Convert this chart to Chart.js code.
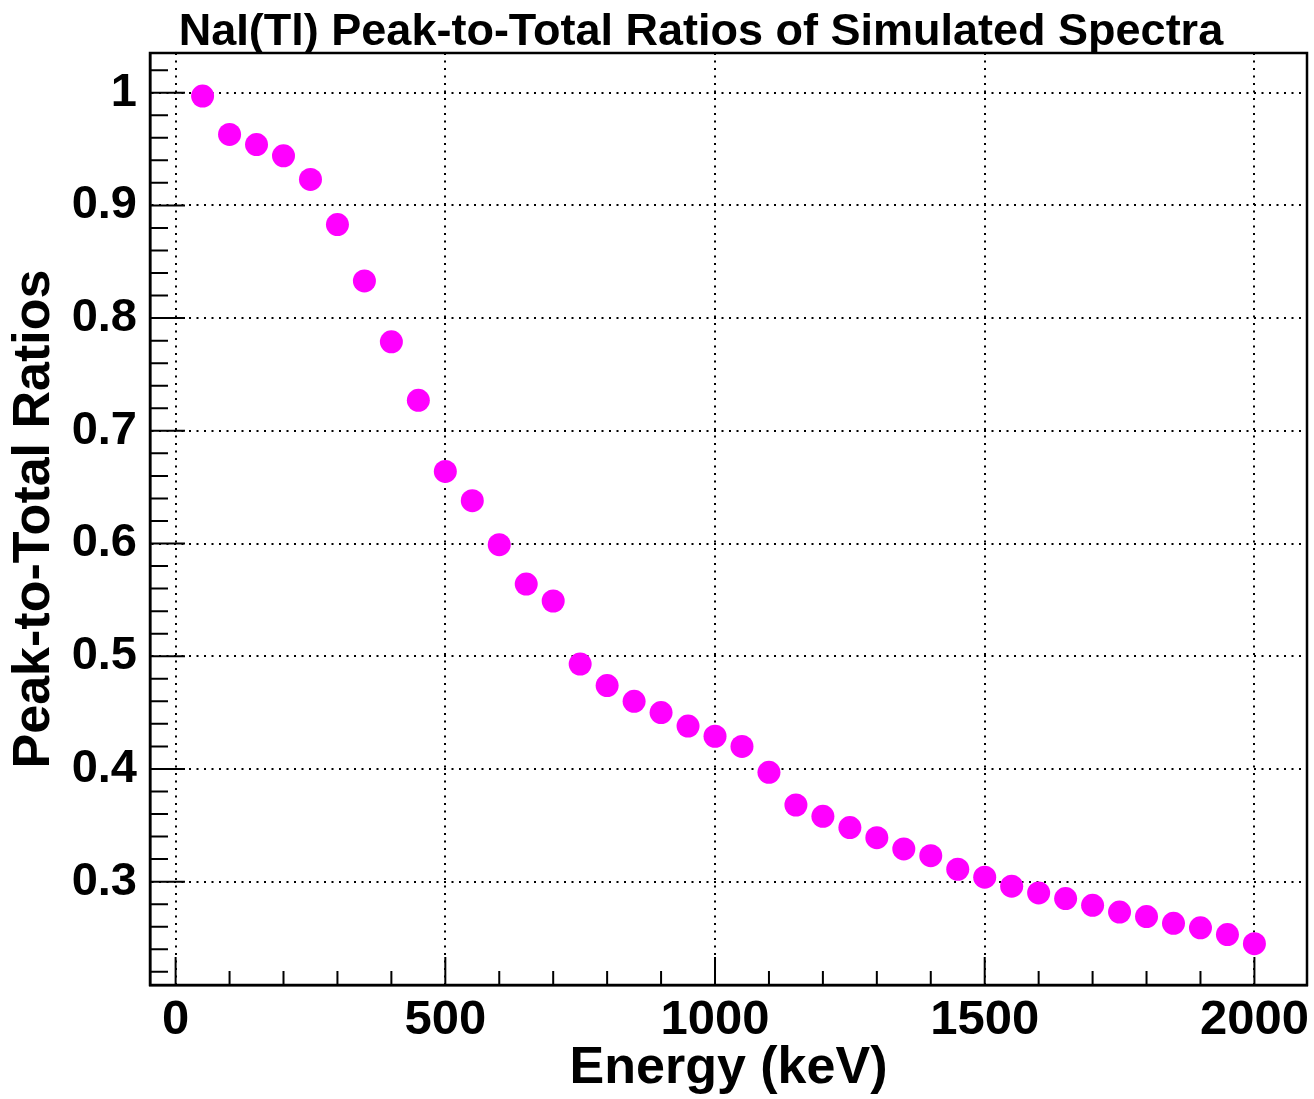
<!DOCTYPE html>
<html>
<head>
<meta charset="utf-8">
<script src="https://cdn.jsdelivr.net/npm/chart.js@4"></script>
<style>
  html, body { margin: 0; padding: 0; background: #fff; }
  #c { display: block; }
</style>
</head>
<body>
<canvas id="c" width="1314" height="1099"></canvas>
<script>
// ---- data ----
const chartTitle = 'NaI(Tl) Peak-to-Total Ratios of Simulated Spectra';
const xTitle = 'Energy (keV)';
const yTitle = 'Peak-to-Total Ratios';
const energies = [50, 100, 150, 200, 250, 300, 350, 400, 450, 500,
                  550, 600, 650, 700, 750, 800, 850, 900, 950, 1000,
                  1050, 1100, 1150, 1200, 1250, 1300, 1350, 1400, 1450, 1500,
                  1550, 1600, 1650, 1700, 1750, 1800, 1850, 1900, 1950, 2000];
const ratios = [0.997, 0.963, 0.954, 0.944, 0.923, 0.883, 0.833, 0.779, 0.727, 0.664,
                0.638, 0.599, 0.564, 0.549, 0.493, 0.474, 0.460, 0.450, 0.438, 0.429,
                0.420, 0.397, 0.368, 0.358, 0.348, 0.339, 0.329, 0.323, 0.311, 0.304,
                0.296, 0.290, 0.285, 0.279, 0.273, 0.269, 0.263, 0.259, 0.253, 0.245];
const xTicks = [0, 500, 1000, 1500, 2000];
const xMinorTicks = [100, 200, 300, 400, 600, 700, 800, 900, 1100, 1200, 1300, 1400,
                     1600, 1700, 1800, 1900];
const yTicks = [0.3, 0.4, 0.5, 0.6, 0.7, 0.8, 0.9, 1.0];
const yTickLabels = ['0.3', '0.4', '0.5', '0.6', '0.7', '0.8', '0.9', '1'];
const yMinorTicks = [0.22, 0.24, 0.26, 0.28, 0.32, 0.34, 0.36, 0.38, 0.42, 0.44, 0.46, 0.48,
                     0.52, 0.54, 0.56, 0.58, 0.62, 0.64, 0.66, 0.68, 0.72, 0.74, 0.76, 0.78,
                     0.82, 0.84, 0.86, 0.88, 0.92, 0.94, 0.96, 0.98, 1.02];
const xRange = [-47.5, 2097.5];
const yRange = [0.2083, 1.0352];

// ---- styles ----
const FONT = "'Liberation Sans', Arial, Helvetica, sans-serif";
const MAGENTA = '#ff00ff';

const framePlugin = {
  id: 'rootFrame',
  beforeDatasetsDraw(chart) {
    const {ctx, chartArea: a, scales: {x, y}} = chart;
    ctx.save();
    ctx.strokeStyle = '#000';
    ctx.lineWidth = 2;
    ctx.setLineDash([]);
    ctx.beginPath();
    xTicks.forEach(v => { const p = x.getPixelForValue(v); ctx.moveTo(p, a.bottom); ctx.lineTo(p, a.bottom - 28); });
    xMinorTicks.forEach(v => { const p = x.getPixelForValue(v); ctx.moveTo(p, a.bottom); ctx.lineTo(p, a.bottom - 14); });
    yTicks.forEach(v => { const p = y.getPixelForValue(v); ctx.moveTo(a.left, p); ctx.lineTo(a.left + 35, p); });
    yMinorTicks.forEach(v => { const p = y.getPixelForValue(v); ctx.moveTo(a.left, p); ctx.lineTo(a.left + 18, p); });
    ctx.stroke();
    ctx.restore();
  },
  afterDraw(chart) {
    const {ctx, chartArea: a} = chart;
    ctx.save();
    ctx.setLineDash([]);
    ctx.strokeStyle = '#000';
    ctx.lineWidth = 2.5;
    ctx.strokeRect(a.left, a.top, a.right - a.left, a.bottom - a.top);
    ctx.fillStyle = '#000';
    ctx.font = 'bold 45px ' + FONT;
    ctx.textAlign = 'center';
    ctx.textBaseline = 'alphabetic';
    ctx.fillText(chartTitle, 701, 45);
    ctx.restore();
  }
};

new Chart(document.getElementById('c'), {
  type: 'scatter',
  data: {
    datasets: [{
      data: energies.map((e, i) => ({x: e, y: ratios[i]})),
      backgroundColor: MAGENTA,
      borderWidth: 0,
      pointRadius: 11.5,
      pointHoverRadius: 11.5,
      showLine: false
    }]
  },
  options: {
    responsive: false,
    animation: false,
    devicePixelRatio: 1,
    layout: { autoPadding: false, padding: { top: 53, right: 7, left: 0, bottom: 0 } },
    plugins: { legend: { display: false }, tooltip: { enabled: false }, title: { display: false } },
    scales: {
      x: {
        type: 'linear',
        position: 'bottom',
        min: xRange[0],
        max: xRange[1],
        afterBuildTicks(s) { s.ticks = xTicks.map(v => ({value: v})); },
        afterFit(s) { s.height = 114; s.paddingLeft = 0; s.paddingRight = 0; },
        ticks: {
          autoSkip: false, maxRotation: 0, minRotation: 0,
          color: '#000', padding: 0,
          font: { family: FONT, size: 49, weight: 'bold', lineHeight: 1.43 },
          callback: v => String(v)
        },
        grid: { color: '#000', lineWidth: 2, drawTicks: false },
        border: { display: true, color: '#000', width: 2.5, dash: [2, 5.5] },
        title: {
          display: true, text: xTitle, color: '#000',
          font: { family: FONT, size: 52, weight: 'bold', lineHeight: 1 },
          padding: { top: 0, bottom: 4 }
        }
      },
      y: {
        type: 'linear',
        position: 'left',
        min: yRange[0],
        max: yRange[1],
        afterBuildTicks(s) { s.ticks = yTicks.map(v => ({value: v})); },
        afterFit(s) { s.width = 150; s.paddingTop = 0; s.paddingBottom = 0; },
        ticks: {
          autoSkip: false, color: '#000', padding: 13,
          font: { family: FONT, size: 47, weight: 'bold', lineHeight: 1 },
          callback: (v, i) => yTickLabels[i]
        },
        grid: { color: '#000', lineWidth: 2, drawTicks: false },
        border: { display: true, color: '#000', width: 2.5, dash: [2, 5.5] },
        title: {
          display: true, text: yTitle, color: '#000',
          font: { family: FONT, size: 52, weight: 'bold', lineHeight: 1 },
          padding: { top: 9, bottom: 0 }
        }
      }
    }
  },
  plugins: [framePlugin]
});
</script>
</body>
</html>
